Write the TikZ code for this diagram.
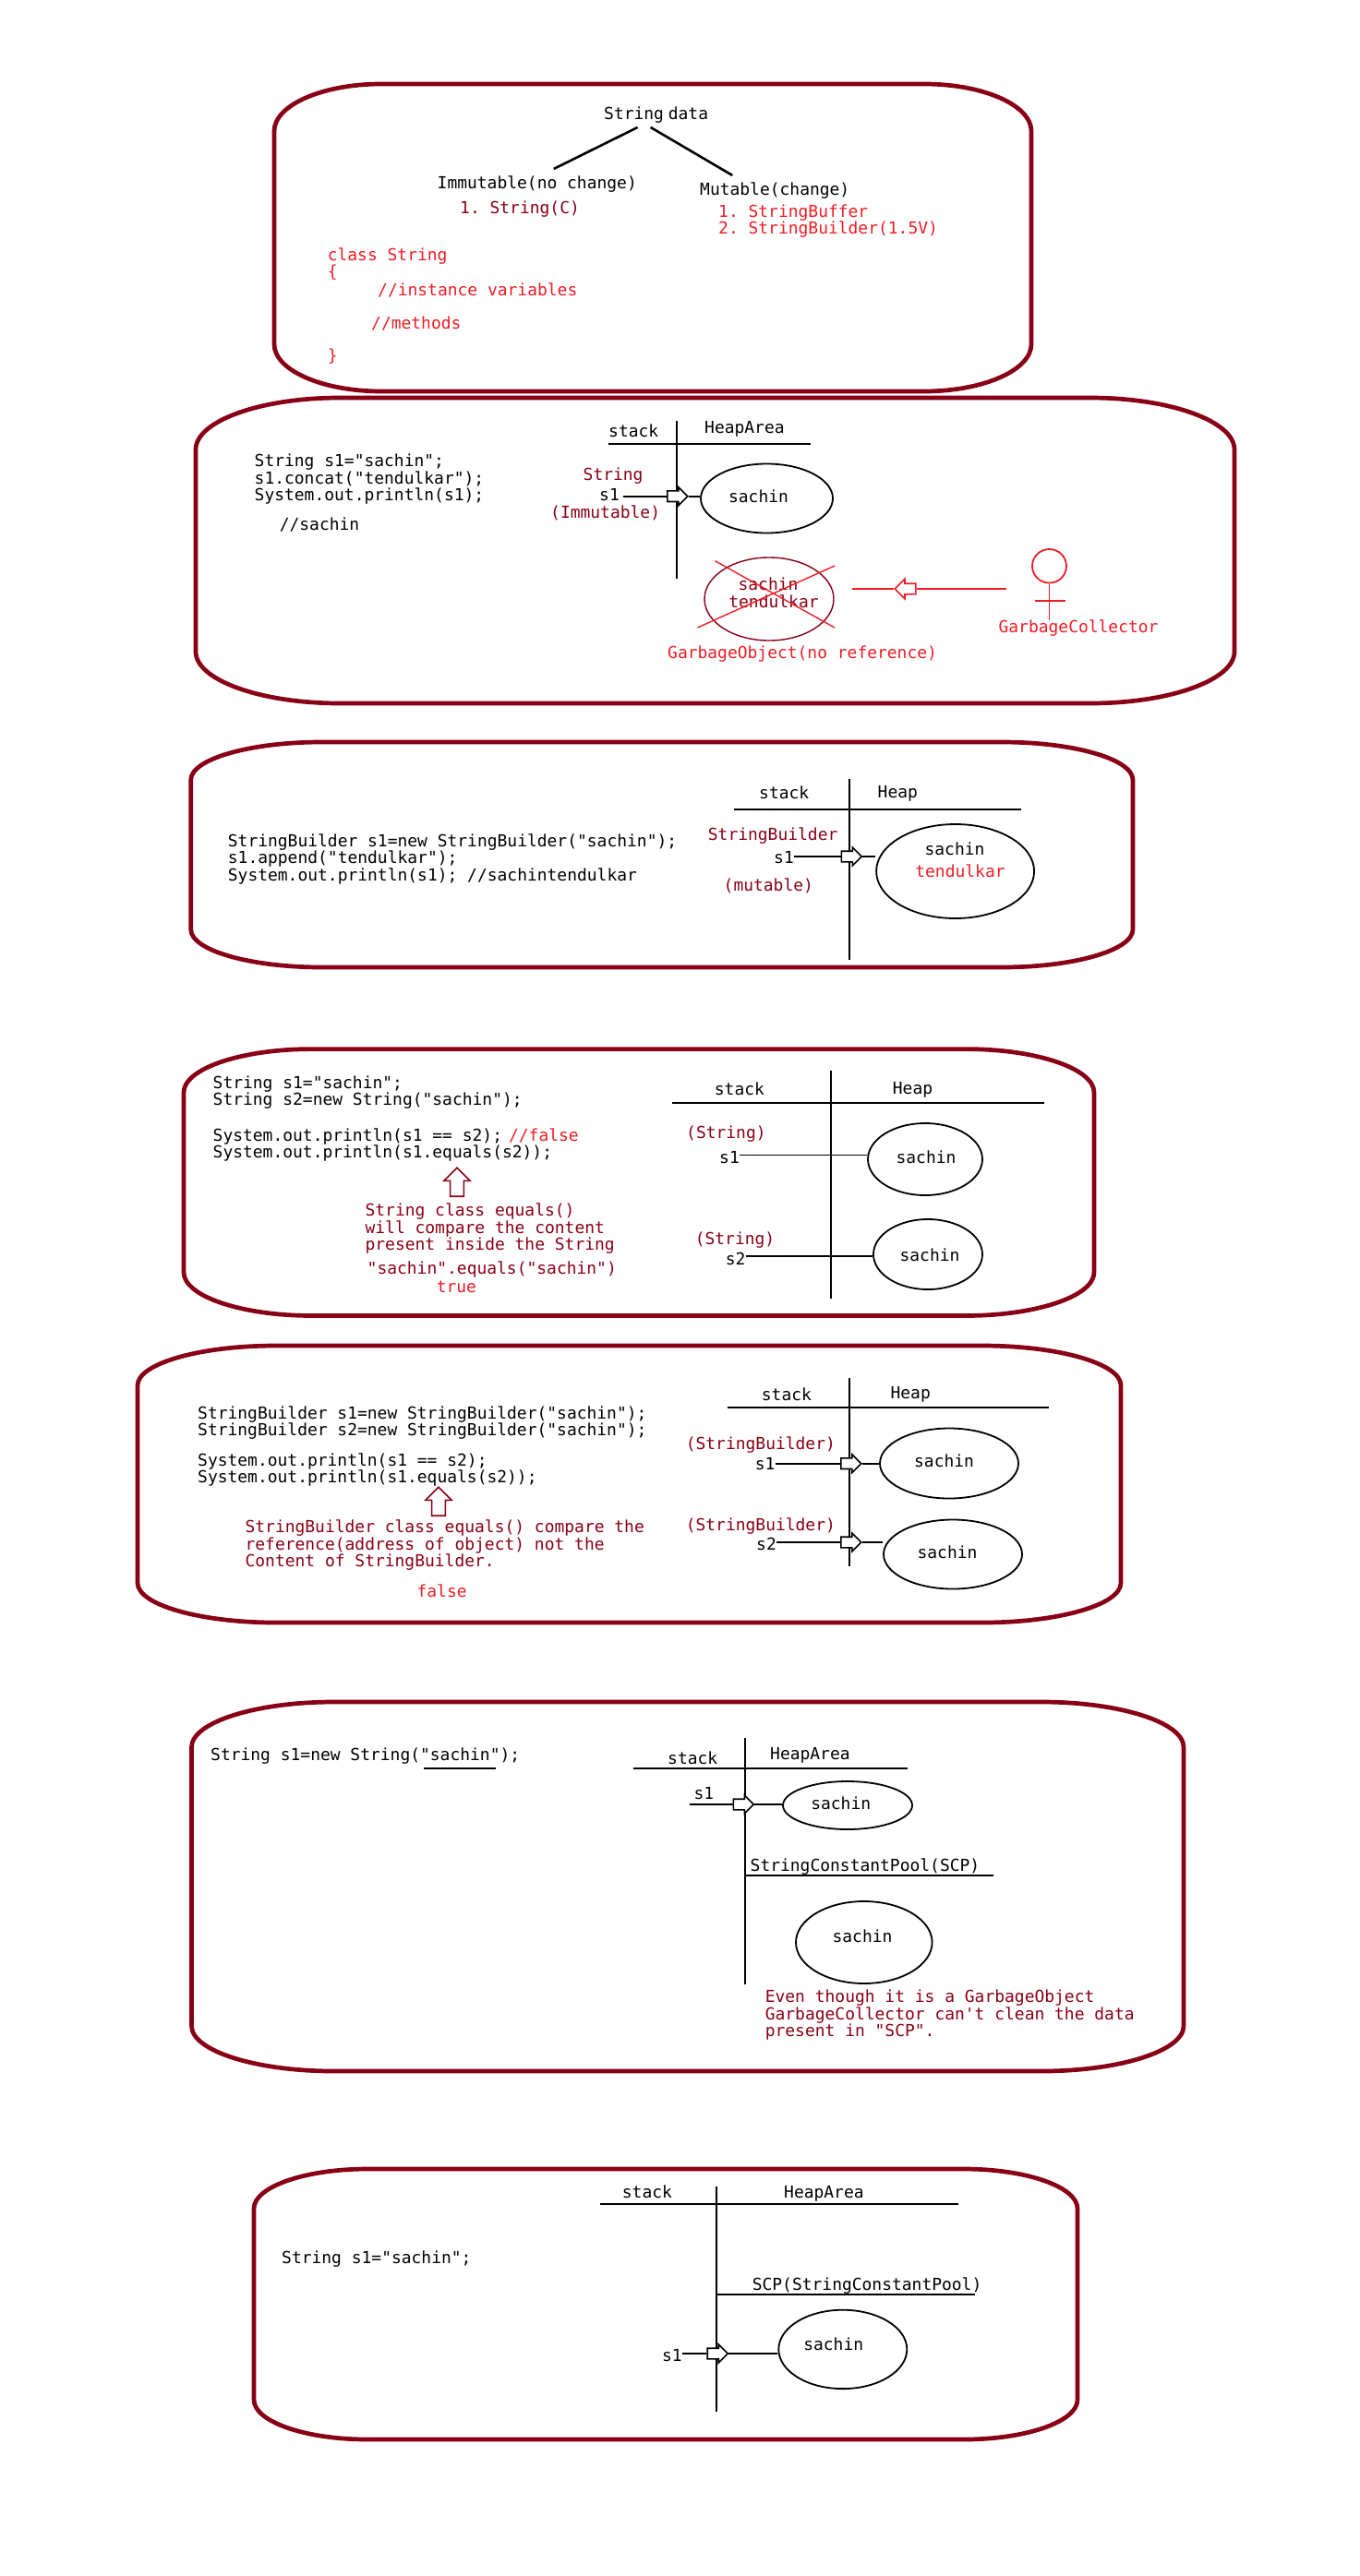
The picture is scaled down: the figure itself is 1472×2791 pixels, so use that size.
\documentclass[tikz,border=0pt]{standalone}
\usepackage{fontspec}
\setmonofont{DejaVu Sans Mono}
\usetikzlibrary{shapes.geometric, shapes.arrows}
\definecolor{panelred}{HTML}{880015}
\definecolor{gcred}{HTML}{ED1C24}
\tikzset{
panel/.style={draw=panelred, line width=4.7pt}, % outer rounded frames
rule/.style={line width=1.8pt},
code/.style={anchor=west, inner sep=0pt, align=left, yshift=-1.5pt, font=\ttfamily\fontsize{17.95}{18.5}\selectfont},
codedark/.style={code, text=panelred},
codered/.style={code, text=gcred},
obj/.style={ellipse, draw, line width=1.8pt, inner sep=0pt},
ptr/.style={single arrow, draw, fill=white, line width=1.6pt, inner sep=5pt, anchor=tail,
  minimum height=22pt, single arrow head extend=4.2pt},
uparrow/.style={ptr, draw=panelred, shape border rotate=90, minimum height=31pt,
  inner sep=6.6pt, single arrow head extend=6.7pt},
}
% left, top, right, bottom, corner x, corner y
\newcommand{\panelbox}[6]{%
  \draw[panel] (#1+#5,#2) -- (#3-#5,#2)
    .. controls (#3-.45*#5,#2) and (#3,#2+.45*#6) .. (#3,#2+#6) -- (#3,#4-#6)
    .. controls (#3,#4-.45*#6) and (#3-.45*#5,#4) .. (#3-#5,#4) -- (#1+#5,#4)
    .. controls (#1+.45*#5,#4) and (#1,#4-.45*#6) .. (#1,#4-#6) -- (#1,#2+#6)
    .. controls (#1,#2+.45*#6) and (#1+.45*#5,#2) .. cycle;}
\begin{document}
\begin{tikzpicture}[x=1pt,y=-1pt]
  \useasboundingbox (0,0) rectangle (1472,2791);

  % kinds of string data
  \panelbox{297}{91}{1117}{424}{116}{51}
  \node[code] (data) at (654,123) {String\hspace{-6pt} data};
  \node[code] (immut) at (473.5,198) {Immutable(no change)};
  \node[code] (mut) at (758,205) {Mutable(change)};
  \node[codedark] (immutlist) at (498,225) {1. String(C)};
  \node[codered] (mutlist) at (778,238) {1. StringBuffer\\2. StringBuilder(1.5V)};
  \node[codered] (cls) at (354.6,276) {class String};
  \node[codered] (open) at (354.6,294) {\{};
  \node[codered] (inst) at (409,312.5) {//instance variables};
  \node[codered] (meth) at (402,349) {//methods};
  \node[codered] (close) at (354.6,385) {\}};
  \draw[line width=2.6pt] ([xshift=-20pt,yshift=-4.5pt]data.south) -- ([xshift=18pt,yshift=7.5pt]immut.north);
  \draw[line width=2.6pt] ([xshift=-6pt,yshift=-4.5pt]data.south) -- ([xshift=-46pt,yshift=7.5pt]mut.north);

  % String is immutable
  \panelbox{212}{431}{1337}{762}{156}{56}
  \node[code] (c2) at (275.5,518) {String s1="sachin";\\s1.concat("tendulkar");\\System.out.println(s1);};
  \node[code] (c2b) at (302.6,567) {//sachin};
  \node[code] (stack2) at (659,465) {stack};
  \node[code] (heap2) at (763,463.6) {HeapArea};
  \draw[rule] (659,480.6) -- (878,480.6);
  \draw[rule] (733,456) -- (733,627);
  \node[codedark] (type2) at (631.5,514.5) {String};
  \node[code] (s2) at (649,535) {s1};
  \node[codedark] (note2) at (596,554.5) {(Immutable)};
  \node[obj, minimum width=143pt, minimum height=75pt] (o2) at (830.5,540) {};
  \node[code, anchor=center] (t2) at (821.5,536) {sachin};
  \node[ptr] (a2) at (722,537.7) {};
  \draw[rule, shorten <=4pt] (s2.east |- a2.tail) -- (a2.tail);
  \draw[rule] (a2.tip) -- (a2.tip -| o2.west);
  \node[obj, draw=panelred, line width=1.4pt, minimum width=140pt, minimum height=90pt] (o2g) at (833,649) {};
  \node[codedark, anchor=center] (t2g) at (832,631.6) {sachin};
  \node[codedark, anchor=center] (t2h) at (838,650) {tendulkar};
  \draw[gcred, line width=1.4pt] (774.5,607.7) -- (904,680);
  \draw[gcred, line width=1.4pt] (904,613) -- (755.6,680);
  \coordinate (gcstart) at (1090,638);
  \coordinate (gcend) at (922.7,638);
  \node[ptr, draw=gcred, shape border rotate=180, minimum height=22.6pt, inner sep=5pt, single arrow head extend=5pt] (ga) at (992.6,638) {};
  \draw[gcred, rule] (gcstart) -- (ga.tail);
  \draw[gcred, rule] (ga.tip) -- (gcend);
  \node[obj, draw=gcred, minimum width=37pt, minimum height=36.6pt] (gchead) at (1136.5,613.3) {};
  \node[codered] (gclabel) at (1081.4,679.4) {GarbageCollector};
  \draw[gcred, rule] (gchead.south) -- (gchead.south |- gclabel.north);
  \draw[gcred, rule] (1120.6,651) -- (1154,651);
  \node[codered] (gobj) at (723,707.4) {GarbageObject(no reference)};

  % StringBuilder is mutable
  \panelbox{206.7}{804}{1227}{1048}{142}{41}
  \node[code] (c3) at (246.7,929) {StringBuilder s1=new StringBuilder("sachin");\\s1.append("tendulkar");\\System.out.println(s1); //sachintendulkar};
  \node[code] (stack3) at (822,857) {stack};
  \node[code] (heap3) at (950.5,858) {Heap};
  \draw[rule] (795.4,876.7) -- (1106,876.7);
  \draw[rule] (919.6,844) -- (919.6,1040);
  \node[codedark] (type3) at (766.7,904.5) {StringBuilder};
  \node[code] (s3) at (838,927.5) {s1};
  \node[codedark] (note3) at (783.5,958) {(mutable)};
  \node[obj, minimum width=171pt, minimum height=102pt] (o3) at (1034.6,944) {};
  \node[code, anchor=center] (t3) at (1034,918) {sachin};
  \node[codered, anchor=center] (t3b) at (1040,942) {tendulkar};
  \node[ptr] (a3) at (910.5,928) {};
  \draw[rule] (s3.east |- a3.tail) -- (a3.tail);
  \draw[rule] (a3.tip) -- (a3.tip -| o3.west);

  % String == and equals
  \panelbox{199}{1136.6}{1185}{1425.5}{139}{47}
  \node[code] (c4) at (230.5,1182) {String s1="sachin";\\String s2=new String("sachin");};
  \node[code] (c4b) at (230.5,1239) {System.out.println(s1 == s2);\hspace{7pt}\textcolor{gcred}{//false}\\System.out.println(s1.equals(s2));};
  \node[uparrow] (a4up) at (495,1297) {};
  \node[codedark] (n4) at (395.4,1330) {String class equals()\\will compare the content\\present inside the String};
  \node[codedark] (n4b) at (397.5,1374) {"sachin".equals("sachin")};
  \node[codered] (n4c) at (472.6,1393) {true};
  \node[code] (stack4) at (773.7,1178) {stack};
  \node[code] (heap4) at (966.7,1179.5) {Heap};
  \draw[rule] (728,1195) -- (1131,1195);
  \draw[rule] (900,1159.6) -- (900,1407);
  \node[codedark] (type4a) at (743,1226.7) {(String)};
  \node[code] (s4a) at (779,1253) {s1};
  \node[obj, minimum width=124pt, minimum height=78pt] (o4a) at (1002,1256) {};
  \node[code, anchor=center] (t4a) at (1003,1252) {sachin};
  \draw[rule] ([yshift=3pt]s4a.east) -- ([yshift=3pt]s4a.east -| o4a.west);
  \node[codedark] (type4b) at (752.6,1342) {(String)};
  \node[code] (s4b) at (785.6,1362) {s2};
  \node[obj, minimum width=118pt, minimum height=76pt] (o4b) at (1005,1359) {};
  \node[code, anchor=center] (t4b) at (1007,1358) {sachin};
  \draw[rule] ([yshift=2.5pt]s4b.east) -- ([yshift=2.5pt]s4b.east -| o4b.west);

  % StringBuilder == and equals
  \panelbox{149}{1458}{1214}{1758}{150}{43}
  \node[code] (c5) at (214,1540) {StringBuilder s1=new StringBuilder("sachin");\\StringBuilder s2=new StringBuilder("sachin");};
  \node[code] (c5b) at (214,1591) {System.out.println(s1 == s2);\\System.out.println(s1.equals(s2));};
  \node[uparrow] (a5up) at (475,1643) {};
  \node[codedark] (n5) at (265.4,1673) {StringBuilder class equals() compare the\\reference(address of object) not the\\Content of StringBuilder.};
  \node[codered] (n5b) at (451.4,1722) {false};
  \node[code] (stack5) at (824.7,1509) {stack};
  \node[code] (heap5) at (964.4,1509) {Heap};
  \draw[rule] (787.5,1525) -- (1135.6,1525);
  \draw[rule] (920,1493) -- (920,1697);
  \node[codedark] (type5a) at (742.6,1563.7) {(StringBuilder)};
  \node[code] (s5a) at (817.7,1584.7) {s1};
  \node[obj, minimum width=150pt, minimum height=76pt] (o5a) at (1028,1585.5) {};
  \node[code, anchor=center] (t5a) at (1022.6,1581.7) {sachin};
  \node[ptr] (a5a) at (910,1585.7) {};
  \draw[rule] (s5a.east |- a5a.tail) -- (a5a.tail);
  \draw[rule] (a5a.tip) -- (a5a.tip -| o5a.west);
  \node[codedark] (type5b) at (742.6,1652) {(StringBuilder)};
  \node[code] (s5b) at (819,1671.7) {s2};
  \node[obj, minimum width=150pt, minimum height=75pt] (o5b) at (1032,1684) {};
  \node[code, anchor=center] (t5b) at (1026,1680) {sachin};
  \node[ptr] (a5b) at (910,1671) {};
  \draw[rule] (s5b.east |- a5b.tail) -- (a5b.tail);
  \draw[rule] (a5b.tip) -- (a5b.tip -| o5b.west);

  % new String and the pool
  \panelbox{207.5}{1844}{1282}{2244}{154}{49}
  \node[code] (c6) at (228,1901) {String s1=new String("sachin");};
  \draw[rule] (459,1915.7) -- (537,1915.7);
  \node[code] (stack6) at (723,1903) {stack};
  \node[code] (heap6) at (834,1900.7) {HeapArea};
  \draw[rule] (686,1915.7) -- (983,1915.7);
  \draw[rule] (807,1883) -- (807,2150);
  \node[code] (s6) at (751.4,1941.7) {s1};
  \coordinate (s6start) at (746.5,1955);
  \node[obj, minimum width=140pt, minimum height=52pt] (o6a) at (918,1956) {};
  \node[code, anchor=center] (t6a) at (910.7,1952.7) {sachin};
  \node[ptr] (a6) at (793.5,1955) {};
  \draw[rule] (s6start) -- (a6.tail);
  \draw[rule] (a6.tip) -- (a6.tip -| o6a.west);
  \node[code] (scp6) at (812.5,2021) {StringConstantPool(SCP)};
  \draw[rule] (807,2032) -- (1075.6,2032);
  \node[obj, minimum width=147.6pt, minimum height=89pt] (o6b) at (935.8,2104.5) {};
  \node[code, anchor=center] (t6b) at (934,2096.7) {sachin};
  \node[codedark] (n6) at (828.6,2182) {Even though it is a GarbageObject\\GarbageCollector can't clean the data\\present in "SCP".};

  % literal goes to the pool
  \panelbox{275}{2350}{1167}{2643}{123}{43}
  \node[code] (c7) at (305,2446) {String s1="sachin";};
  \node[code] (stack7) at (673.7,2373) {stack};
  \node[code] (heap7) at (849,2375) {HeapArea};
  \draw[rule] (649.7,2388) -- (1037.6,2388);
  \draw[rule] (776,2369) -- (776,2612.7);
  \node[code] (scp7) at (814.6,2475) {SCP(StringConstantPool)};
  \draw[rule] (776,2486) -- (1056,2486);
  \node[code] (s7) at (716.8,2550.7) {s1};
  \node[obj, minimum width=139pt, minimum height=85.4pt] (o7) at (912.8,2545.4) {};
  \node[code, anchor=center] (t7) at (902.7,2538) {sachin};
  \node[ptr] (a7) at (765.4,2550) {};
  \draw[rule] (s7.east |- a7.tail) -- (a7.tail);
  \draw[rule] (a7.tip) -- (a7.tip -| o7.west);
\end{tikzpicture}
\end{document}
